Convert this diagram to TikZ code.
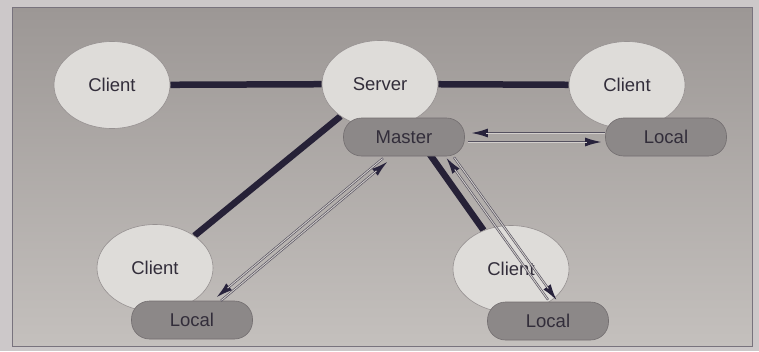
\documentclass[tikz,border=0pt]{standalone}
\usepackage{fontspec}
\setmainfont{Liberation Sans}
\usetikzlibrary{shapes.geometric,arrows.meta,calc}
\pgfdeclarelayer{bg}
\pgfsetlayers{bg,main}
\definecolor{outerc}{RGB}{204,200,201}
\definecolor{bgtop}{RGB}{156,151,149}
\definecolor{bgbot}{RGB}{196,192,189}
\definecolor{framec}{RGB}{120,115,125}
\definecolor{ellc}{RGB}{222,220,217}
\definecolor{ellb}{RGB}{150,145,145}
\definecolor{boxc}{RGB}{140,136,136}
\definecolor{boxb}{RGB}{115,110,112}
\definecolor{thickc}{RGB}{38,33,55}
\definecolor{txtc}{RGB}{50,45,58}
\definecolor{arrdark}{RGB}{85,81,95}
\definecolor{arrlight}{RGB}{210,206,203}
\definecolor{tipc}{RGB}{40,35,60}
\begin{document}
\begin{tikzpicture}[x=1pt,y=-1pt,
  cl/.style={ellipse, fill=ellc, draw=ellb, line width=0.6pt, minimum width=116pt, minimum height=87pt, inner sep=0pt, font=\fontsize{18.5}{20}\selectfont, text=txtc},
  lo/.style={rectangle, rounded corners=18pt, fill=boxc, draw=boxb, line width=0.6pt, minimum width=121pt, minimum height=38pt, inner sep=0pt, font=\fontsize{18.5}{20}\selectfont, text=txtc},
  thickline/.style={draw=thickc, line width=6.5pt},
  tarr/.style={draw=arrdark, line width=2.2pt, -{Latex[length=17pt,width=9pt,color=tipc]}, postaction={draw=arrlight, line width=0.9pt, -, shorten >=15pt, shorten <=0.5pt}}
]
\useasboundingbox (0,0) rectangle (759,351);
\begin{pgfonlayer}{bg}
\fill[outerc] (0,0) rectangle (759,351);
\shade[top color=bgtop, bottom color=bgbot] (12,7) rectangle (752,346);
\draw[framec, line width=1pt] (12,7) rectangle (752,346);
\end{pgfonlayer}
% clients and server
\node[cl] (c1) at (112,85) {Client};
\node[cl] (s)  at (380,84) {Server};
\node[cl] (c2) at (627,85) {Client};
\node[cl] (c3) at (155,268) {Client};
\node[cl] (c4) at (511,269) {Client};
% master and locals
\node[lo] (m)  at (404,137) {Master};
\node[lo] (l2) at (666,137) {Local};
\node[lo] (l3) at (192,320) {Local};
\node[lo] (l4) at (548,321) {Local};
% thick links
\begin{pgfonlayer}{bg}
\draw[thickline] (c1) -- (s);
\draw[thickline] (s) -- (c2);
\draw[thickline] (s) -- (c3);
\draw[thickline] (s) -- (c4);
\end{pgfonlayer}
% thin double arrows
\draw[tarr] ([yshift=4pt]l2.west) -- ([yshift=4pt,xshift=6pt]m.east);
\draw[tarr] ([yshift=-5pt,xshift=3pt]m.east) -- ([yshift=-5pt,xshift=-3pt]l2.west);
\draw[tarr] ($(l3.north)+(29,0)$) -- ($(m.south)+(-16,5)$);
\draw[tarr] ($(m.south)+(-21,2)$) -- ($(l3.north)+(24,-3)$);
\draw[tarr] ($(l4.north)+(0,-2)$) -- ($(m.south)+(42,1)$);
\draw[tarr] ($(m.south)+(50,1)$) -- ($(l4.north)+(9,-1)$);
\end{tikzpicture}
\end{document}
